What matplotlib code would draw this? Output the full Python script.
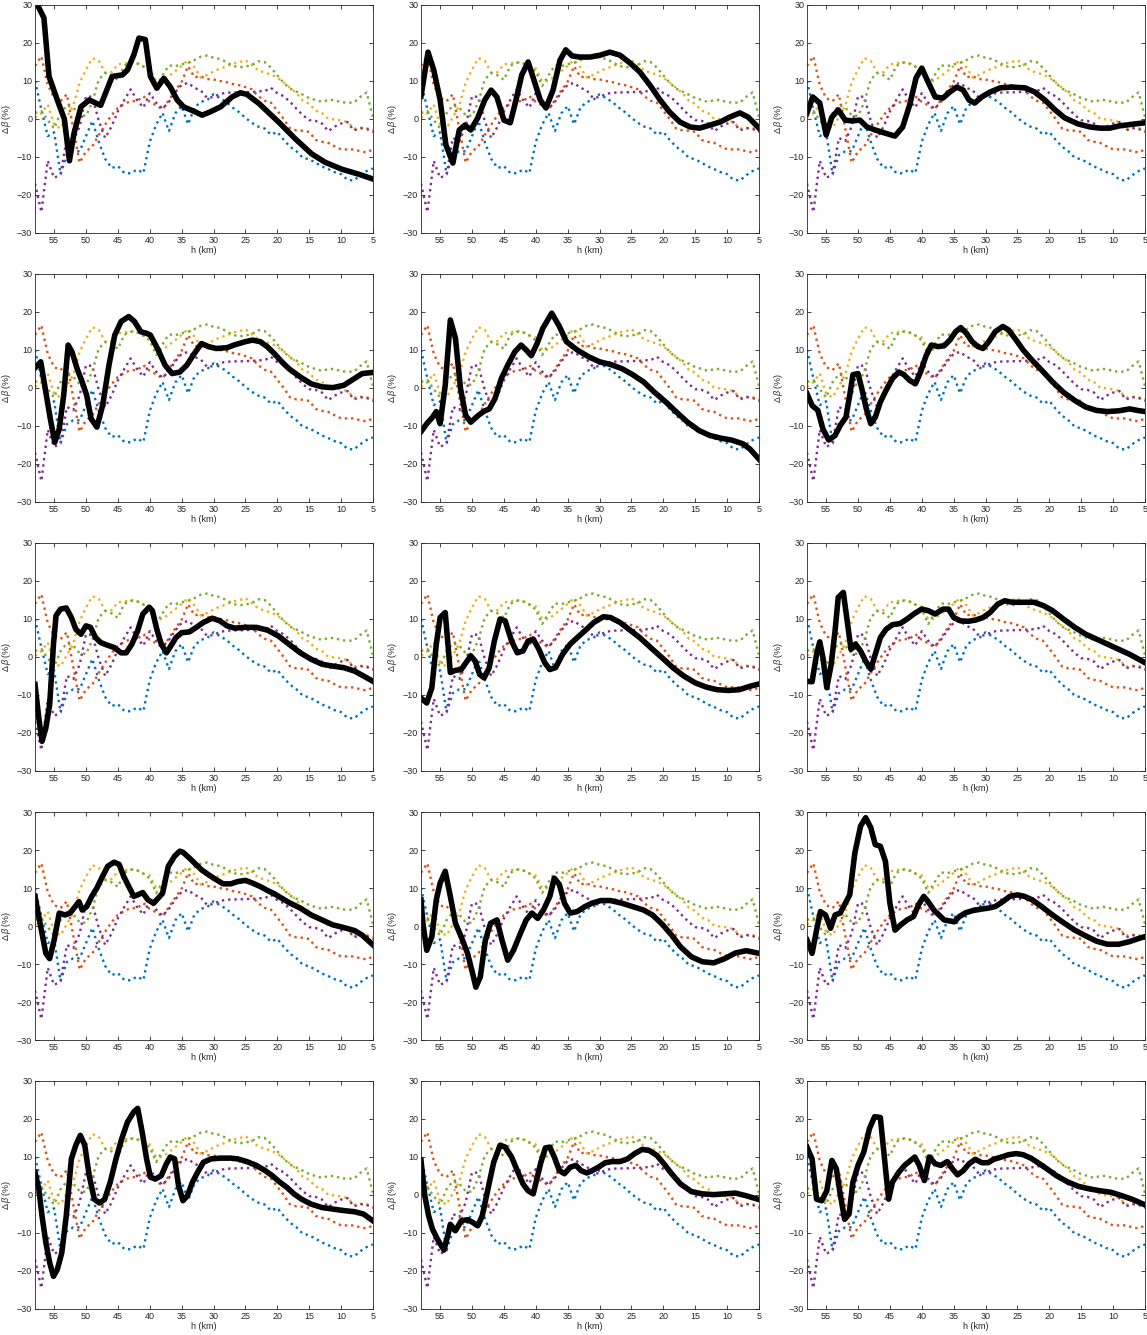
import numpy as np
import matplotlib
matplotlib.use('Agg')
from matplotlib import pyplot as plt

plt.rcParams['font.family'] = ['Liberation Sans', 'DejaVu Sans']
plt.rcParams['mathtext.fontset'] = 'custom'
plt.rcParams['mathtext.rm'] = 'Liberation Sans'
plt.rcParams['mathtext.it'] = 'Liberation Sans:italic'

# altitude grid shared by the reference profiles (km)
h_ref = np.arange(58, 4, -1)

ref_blue = [10, 2.5, -4.5, -3.5, -14.5, -9.5, -8.5, -8.5, -4.5, -0.5, -6, -10.5, -12.9, -12.4,
            -14.2, -14.3, -13.3, -14.2, -6, -1.5, 1.6, -3.2, 1.5, 3.4, -1.4, 3, 4.5, 5, 6.5, 5.5,
            4.5, 3, 1.8, 0.3, -1, -2, -2.5, -4.1, -3.4, -5.5, -7.3, -8.5, -10.2, -10.6, -11.5,
            -12.5, -13.2, -14, -14.5, -16, -16.2, -14.8, -13.7, -13]
ref_orange = [14, 16.5, 9, 5.5, 4.7, 6.5, -2.5, -11.5, -8.5, -7.2, -4.2, -1.5, 1, 2.9, 4, 4.7,
              4.7, 6, 4.5, 3.6, 2.5, 5, 7.5, 9.8, 13.9, 11, 11.2, 10.5, 10.4, 10, 9.7, 9.2, 8.9,
              8.4, 7.8, 6, 4.8, 4.3, 2.2, 0, -2.5, -3, -3.1, -3.4, -5.5, -6, -6.3, -7.2, -8, -8,
              -8, -8.5, -8.8, -8]
ref_yellow = [0.3, 1.5, 3.8, -1.5, -2.5, 0.5, 3.5, 9.5, 13, 16, 15.3, 12.2, 12.3, 14.4, 14.6, 15,
              14.8, 13.8, 13.3, 10, 10, 11.3, 12.6, 14, 15.5, 13.6, 10.9, 11.6, 12.5, 13.3, 13.8,
              14.6, 14.9, 15.5, 14.2, 12.8, 12.2, 11.7, 10.9, 9.6, 8.2, 6.8, 4.8, 4, 2.2, 1.6, 0,
              -0.1, -0.4, -0.8, -2.5, -2.3, -2.4, -3]
ref_purple = [-17, -24.5, -11, -15.5, -14.6, -5, -5.8, -2, 6, 5.8, -0.5, -5, -2, 2, 5, 7.8, 5, 3,
              6.8, 4.3, 2.7, 4.5, 7, 9, 9.5, 8.2, 7.5, 5.5, 5.8, 6.6, 6.9, 7, 7, 7.1, 7.1, 7.3,
              7.3, 8.2, 6.8, 6, 4.5, 2.7, 1, -0.3, -0.5, -1.2, -3.2, -2, -1.2, -0.8, -3, -2.4,
              -2.6, -3.4]
ref_green = [1.6, 2.1, -0.3, -2.5, 1.5, 3.6, 3, 1, 0.8, 4.5, 10.4, 12.1, 11.5, 10.3, 14, 14.8,
             14.6, 13.8, 12.5, 8.7, 11.5, 14.1, 13.9, 14.4, 14.8, 15.5, 16.4, 16.7, 16.1, 15.8,
             15, 14, 13.6, 13.8, 14.2, 15.2, 15, 13.5, 11.5, 9.5, 8, 7.2, 6.4, 5.5, 5, 4.5, 5, 5,
             4.4, 4.3, 4.3, 5.8, 7, 0.5]

# individual profiles, one per panel (altitude km, delta beta %)
h01 = [58, 57.6, 56.6, 55.8, 54.5, 53.4, 52.6, 51.9, 50.8, 49.5, 47.7, 45.9, 44.3, 43.5, 42.5,
       41.7, 40.7, 39.9, 38.9, 37.8, 36.8, 35.7, 34.7, 32.9, 31.8, 30.5, 28.9, 27.1, 25.8, 24.8,
       22.9, 19.8, 17.2, 14.6, 12.5, 9.9, 7.3, 5]
d01 = [31, 30, 26.6, 11.2, 5, 0, -11, -3.9, 3.2, 5, 3.6, 11.2, 11.6, 12.9, 16.9, 21.3, 20.9,
       11.2, 8.1, 10.7, 8.5, 5, 3.2, 1.9, 1, 1.9, 3.2, 5.8, 6.9, 6.5, 4.1, -0.8, -5.2, -9.2,
       -11.4, -13.2, -14.5, -15.8]

h02 = [58, 56.9, 56, 55, 54.1, 53, 52, 51.1, 50.2, 49.1, 48, 47, 46.1, 45, 44, 43.1, 42.2, 41.2,
       40.3, 39.3, 38.4, 37.3, 36.2, 35.3, 34.3, 33.1, 31.5, 29.9, 28.4, 26.8, 25.2, 23.7, 22.1,
       20.5, 19, 17.4, 15.8, 14.3, 12.7, 11.1, 9.6, 8, 6.7, 5]
d02 = [6, 17.6, 12.9, 5, -6.8, -11.6, -2.9, -1.6, -2.9, 0.3, 5, 7.6, 5.8, -0.3, -1, 5, 11.6, 15,
       10.3, 5, 2.9, 7.6, 15.5, 18.2, 16.6, 16.3, 16.3, 16.8, 17.6, 16.8, 14.7, 12.4, 8.9, 5,
       1.8, -0.8, -2.1, -2.4, -1.6, -0.8, 0.5, 1.6, 0.5, -2.4]

h03 = [58, 57.1, 56, 55, 54.1, 53.1, 52, 50.9, 49.7, 48.6, 47.3, 45.8, 44.2, 43, 41.9, 40.9, 40,
       39, 37.9, 36.7, 35.6, 34.5, 33.5, 32.6, 31.7, 30.6, 29.3, 27.7, 25.9, 23.8, 22.3, 20.7,
       19.1, 17.6, 15.5, 13.6, 12.1, 10.5, 9, 6.6, 5]
d03 = [1.6, 5.8, 4.2, -4.2, 0.5, 2.4, -0.3, -0.5, -0.3, -2.1, -2.9, -3.7, -4.5, -2.1, 3.7, 10.8,
       13.4, 9.7, 5.8, 5.5, 7.1, 8.4, 7.6, 5, 4.2, 5.8, 7.1, 8.2, 8.4, 8.2, 7.1, 5, 2.4, 0.3,
       -1.3, -2.1, -2.4, -2.4, -1.8, -1.3, -1]

h04 = [58, 57.1, 56.3, 55.6, 54.9, 54.2, 53.5, 52.8, 52.2, 51.4, 50.6, 49.9, 49.2, 48.3, 47.4,
       46.4, 45.5, 44.5, 43.3, 42.4, 41.4, 40.5, 39.9, 38.8, 37.6, 36.5, 35.3, 34.2, 33, 31.9,
       30.8, 29.6, 27.9, 26.8, 25, 23.9, 22.7, 21.6, 20.5, 19.3, 18.2, 16.4, 14.7, 13, 11.3,
       9.6, 7.9, 6.7, 5]
d04 = [5.3, 6.9, -1.1, -8.1, -14.3, -10.8, -1.9, 11.3, 9.5, 5.1, 1.6, -1.9, -8.1, -10.3, -4.6,
       6, 13.9, 17.5, 18.8, 17.5, 14.8, 14.4, 13.9, 10.4, 6, 3.8, 4.2, 6, 9.1, 11.7, 10.9, 10.4,
       10.6, 11.3, 12.2, 12.6, 12.2, 10.9, 9.1, 6.9, 5.1, 2.9, 1.1, 0.3, 0.1, 0.7, 2.5, 3.8, 4.1]

h05 = [58, 57.1, 56.2, 55.6, 55, 54.2, 53.4, 52.6, 51.8, 51, 50.2, 49, 48.2, 47.3, 46.4, 45.4,
       44.4, 43.3, 42.3, 41.5, 40.7, 39.8, 38.9, 37.5, 36.3, 35.2, 33.5, 31.7, 30, 28.3, 26.5,
       24.8, 23.1, 21.4, 19.6, 17.9, 16.2, 14.4, 12.7, 11, 9.3, 7.5, 6.4, 5]
d05 = [-11.5, -9.4, -7.7, -6.2, -9.4, 0.7, 17.9, 13.1, -0.2, -7.2, -9, -7.2, -6.2, -5.5, -2.8,
       2.5, 6, 9.5, 11.3, 10, 8.5, 11.7, 15.7, 19.7, 16.2, 12.2, 10, 8.2, 6.9, 6.2, 5.1, 3.5,
       1.6, -1.1, -3.7, -6.4, -9, -11.2, -12.5, -13.2, -13.7, -14.7, -16.1, -18.7]

h06 = [58, 57.2, 56.3, 55.5, 54.6, 53.6, 52.8, 51.9, 51.3, 50.8, 50, 49.4, 48.7, 48, 47.3, 46.5,
       45.6, 44.6, 43.6, 42.8, 41.9, 41, 40.2, 39.3, 38.5, 37.5, 36.5, 35.6, 34.7, 33.9, 33,
       32.1, 31.2, 30.4, 29.5, 28.5, 27.3, 26.4, 25.2, 24.1, 22.7, 21.2, 19.5, 17.8, 16, 14.3,
       12.6, 10.9, 9.1, 7.4, 6.2, 5]
d06 = [-1.5, -4.6, -5.9, -10.8, -13.7, -12.5, -9.9, -7.7, -1.9, 3.5, 3.8, -0.2, -5.5, -9.4, -7.7,
       -3.7, -0.6, 2.5, 4.2, 3.5, 2, 1.1, 4.2, 8.6, 11.3, 10.9, 11.1, 12.6, 14.8, 15.9, 14.4,
       12.2, 10.9, 10.4, 12.2, 14.8, 16.2, 15.3, 12.6, 10, 7.3, 4.7, 1.6, -1.1, -3.3, -5, -5.9,
       -6.2, -6, -5.5, -5.9, -6.2]

h07 = [58, 57.4, 56.9, 56.3, 55.7, 55.1, 54.7, 54, 53.1, 52.3, 51.6, 50.8, 50, 49.3, 48.5, 47.7,
       46.8, 45.6, 44.5, 43.7, 42.8, 41.9, 41.1, 40.1, 39.6, 38.9, 38.2, 37.4, 36.7, 35.9, 35,
       33.8, 32.7, 31.6, 30.2, 29, 27.9, 26.7, 25, 23.3, 21.6, 19.9, 18.2, 16.4, 14.7, 13, 11.3,
       9.6, 7.9, 6.7, 5]
d07 = [-7.2, -16.1, -22.2, -18.7, -12.5, 3.4, 10.9, 12.6, 12.9, 10.4, 7.3, 6, 8.2, 7.8, 5.1, 3.8,
       3.2, 2.5, 1.1, 1.1, 3.4, 6.9, 11.3, 13.1, 12.2, 7.3, 3.4, 1.1, 2.9, 5.1, 6.4, 6.6, 7.8,
       9.1, 10.2, 9.5, 8.2, 7.6, 7.8, 7.8, 7.1, 5.6, 3.4, 1.1, -0.6, -1.9, -2.4, -2.8, -3.7,
       -4.8, -6.4]

h08 = [58, 57.1, 56.3, 55.6, 55, 54.2, 53.4, 52.6, 51.7, 50.2, 49.5, 48.8, 48.1, 47.3, 46.5,
       45.6, 44.8, 43.8, 42.9, 42, 41.2, 40.4, 39.5, 38.6, 37.8, 36.9, 35.8, 34.6, 33.5, 32.3,
       30.9, 29.4, 28.3, 26.8, 25.4, 23.7, 22, 20.2, 18.5, 16.8, 15, 13.3, 11.6, 9.8, 8.1, 6.4, 5]
d08 = [-10.8, -12.1, -8.1, 3.4, 10.4, 11.7, -4.1, -3.5, -3.3, 0.3, -1.1, -4.6, -5.5, -2.8, 4.2,
       10, 9.5, 4.2, 1.1, 1.6, 4.2, 4.7, 2, -1.5, -3.3, -2.8, 0.7, 3.4, 5.1, 6.9, 9.1, 10.6,
       10.4, 9.1, 7.3, 5.1, 2.5, -0.2, -2.8, -5, -6.8, -7.9, -8.6, -8.8, -8.6, -7.7, -7.1]

h09 = [58, 57.2, 56.5, 56, 55.5, 54.9, 54.2, 53.6, 53.1, 52.3, 51.7, 51.1, 50.4, 49.6, 48.8, 48,
       47.3, 46.5, 45.6, 44.6, 43.4, 42.3, 41.1, 40, 39, 37.9, 36.7, 35.8, 35, 33.9, 32.7, 31.6,
       30.4, 29.3, 28.1, 27, 25.8, 24.1, 22.4, 20.9, 19.5, 17.8, 16, 14.3, 12.6, 10.9, 9.1, 7.4,
       6.2, 5]
d09 = [-6.4, -6.5, 0.7, 4, -0.2, -8.1, -1.9, 6.9, 15.7, 17, 9.5, 2, 3.4, 1.6, -1.1, -3.2, 0.7,
       5.1, 7.3, 8.5, 8.8, 10, 11.5, 12.6, 12.2, 11.3, 12.6, 12.6, 10.4, 9.5, 9.4, 9.7, 10.4,
       11.7, 13.9, 14.8, 14.4, 14.4, 14.4, 13.5, 12.2, 10, 7.8, 6, 4.7, 3.4, 2, 0.7, -0.4, -1.5]

h10 = [58, 57.1, 56.3, 55.7, 55, 54.2, 53.3, 52.5, 51.1, 50.6, 49.9, 49.1, 48.3, 47.4, 46.6,
       45.6, 44.8, 44.1, 43.3, 42.5, 41.9, 41.1, 40.3, 39.4, 38, 37.1, 36.1, 35.3, 34.8, 33.8,
       33, 31.9, 30.8, 29.6, 28.5, 27.3, 26.2, 25, 23.9, 22.7, 21.6, 20.5, 19.3, 18.2, 16.4,
       14.7, 13, 11.3, 9.6, 7.9, 6.7, 5]
d10 = [7.8, -0.2, -7.2, -8.6, -3.7, 3.4, 2.9, 3.4, 6.4, 4.2, 5.1, 7.8, 10, 13.1, 15.7, 16.8, 16.2,
       13.1, 10.4, 7.8, 8.2, 8.8, 6.9, 6, 8.6, 15.7, 18.4, 19.7, 19.4, 17.9, 16.6, 14.8, 13.5,
       12.2, 11.1, 11.1, 11.7, 12, 11.3, 10.4, 9.4, 8.5, 7.3, 6.2, 4.7, 2.9, 1.6, 0.3, -0.4,
       -1.2, -2.4, -5]

h11 = [58, 57.7, 57.1, 56.3, 55.6, 55, 54.2, 53.4, 52.6, 51.7, 50.7, 49.9, 49.4, 48.7, 47.9,
       47.1, 46.1, 45.3, 44.4, 43.5, 42.4, 41.5, 40.6, 39.7, 38.8, 37.8, 37.1, 36.3, 35.5, 34.6,
       33.5, 32.3, 31.2, 29.8, 28.3, 26.5, 24.8, 23.1, 21.7, 20.2, 18.7, 17.3, 15.6, 13.9, 12.1,
       10.4, 8.7, 7, 5]
d11 = [6.9, 0.7, -6.4, -2.8, 6.9, 11.3, 14.4, 7.8, 0.7, -2.8, -7.2, -12.5, -16.1, -13.4, -3.7,
       0.7, 1.6, -3.7, -9, -6.4, -1.9, 1.6, 3.4, 2, 4.2, 7.8, 12.6, 10.9, 6, 3.4, 3.8, 5.1, 6,
       6.7, 6.7, 6, 5.1, 4.2, 2.9, 0.5, -2.4, -5.5, -8.1, -9.4, -9.7, -8.6, -7.1, -6.5, -7.2]

h12 = [58, 57.2, 56.5, 55.9, 55.1, 54.3, 53.6, 52.8, 51.3, 50.5, 49.6, 48.8, 48, 47.3, 46.5,
       45.7, 45, 44.2, 43.3, 42.3, 41.3, 40.5, 39.7, 39, 38.1, 37.3, 36.5, 34.9, 34.1, 33.1,
       31.9, 30.8, 29.6, 28.5, 27.3, 26.2, 25, 23.9, 22.7, 21.2, 19.5, 17.8, 16, 14.3, 12.6,
       10.9, 9.1, 7.4, 6.2, 5]
d12 = [-3.7, -7.2, -1.1, 3.8, 2.9, -0.6, 2.9, 3.4, 8.2, 19.2, 26.3, 28.5, 25.9, 21.4, 21, 17, 6,
       -1.1, 0.3, 1.6, 2.5, 5.6, 7.8, 6.4, 4.2, 2.9, 1.6, 1.1, 2.5, 3.5, 4.1, 4.4, 4.7, 5.1, 6.4,
       7.8, 8.2, 7.8, 6.9, 5.1, 2.9, 0.9, -1.1, -2.6, -4, -4.8, -4.8, -4.1, -3.4, -2.8]

h13 = [58, 57.4, 56.9, 56.3, 55.7, 55.1, 54.5, 53.8, 53.1, 52.3, 51.6, 50.9, 50.2, 49.5, 48.7,
       47.9, 47.1, 46.2, 45.3, 44.4, 43.5, 42.5, 41.9, 41.2, 40.5, 39.9, 39.1, 38.2, 37.4, 36.8,
       36.1, 35.5, 34.8, 34.1, 33.3, 32.5, 31.6, 30.4, 29, 27.3, 26.2, 24.8, 23.3, 21.9, 20.8,
       19.7, 18.5, 17.4, 16.2, 14.7, 13, 11.3, 9.6, 7.9, 6.5, 5]
d13 = [6, 1.6, -5.5, -12.5, -17.8, -21.4, -19.6, -15.2, -5.5, 9.5, 13.1, 15.7, 13.1, 5.1, -1.1,
       -2.1, -1.2, 3.4, 9.5, 14.8, 19.2, 21.9, 22.8, 16.6, 9.5, 4.7, 4.2, 5.1, 8.2, 10, 9.5, 2.5,
       -1.5, -0.2, 3.4, 6, 8.6, 9.5, 9.7, 9.7, 9.5, 8.8, 7.8, 6.4, 5.1, 3.5, 2, 0.3, -1.1, -2.4,
       -3.3, -3.7, -4.1, -4.4, -5, -6.8]

h14 = [58, 57.4, 56.8, 56.2, 55.4, 54.4, 53.7, 53.4, 52.6, 51.7, 50.7, 49.9, 49.1, 48.4, 47.5,
       46.6, 45.6, 44.8, 43.8, 42.9, 42, 41.2, 40.4, 39.2, 38.5, 37.8, 37.1, 36.3, 35.5, 34.6,
       33.7, 32.9, 32, 31.2, 30.2, 29.1, 28, 26.8, 25.6, 24.5, 23.3, 22.2, 21, 19.9, 18.7, 17.3,
       15.6, 13.9, 12.1, 10.4, 8.7, 7, 5]
d14 = [9.1, -0.2, -5.5, -9, -11.7, -14.5, -9.9, -7.7, -9.4, -6.8, -6.5, -7.2, -8.1, -5.5, 1.6,
       8.6, 13.1, 12.6, 10, 6.4, 2.9, 1.1, 0.3, 8.6, 12.4, 12.6, 10, 6.4, 5.6, 7.3, 7.8, 6.4,
       5.8, 6.4, 7.3, 8.5, 8.8, 8.8, 9.5, 10.9, 12, 11.7, 10.4, 8.2, 5.6, 2.9, 0.9, 0.3, 0.1,
       0.3, 0.5, -0.2, -1.2]

h15 = [58, 57.2, 56.5, 55.7, 54.9, 54.1, 53.4, 52.8, 52.1, 51.4, 50.8, 50, 49.1, 48.2, 47.4,
       46.5, 45.9, 45.2, 44.6, 43.6, 42.7, 41.1, 40.4, 39.6, 38.8, 37.9, 37, 36, 35.2, 34.4,
       33.5, 32.6, 31.6, 30.6, 29.6, 28.7, 27.5, 26.4, 25.2, 24.1, 22.9, 21.8, 20.4, 18.9, 17.2,
       15.5, 13.7, 12, 10.3, 8.6, 6.9, 5]
d15 = [12.6, 9.5, -1.1, -1.5, 1.1, 9.1, 6.9, 0.3, -6.4, -5, 3.4, 7.8, 11.3, 17.5, 20.6, 20.4,
       10.4, -1.1, 3.4, 6, 7.8, 10, 7.8, 3.8, 10, 8.2, 7.8, 8.8, 6.9, 5.3, 6.4, 8.2, 9.4, 8.5,
       8.5, 9.4, 10, 10.6, 10.9, 10.6, 9.7, 8.5, 6.9, 5.1, 3.5, 2.3, 1.6, 1.1, 0.7, -0.2, -1.2,
       -2.6]

profiles = [(h01, d01), (h02, d02), (h03, d03), (h04, d04), (h05, d05), (h06, d06),
            (h07, d07), (h08, d08), (h09, d09), (h10, d10), (h11, d11), (h12, d12),
            (h13, d13), (h14, d14), (h15, d15)]

ref_series = [ref_blue, ref_orange, ref_yellow, ref_purple, ref_green]
ref_colors = ['#0072BD', '#D95319', '#EDB120', '#7E2F8E', '#77AC30']

W, H = 1147, 1335
fig = plt.figure(figsize=(W / 100, H / 100), dpi=100)

col_left = [35, 421, 807]
row_top = [5, 274, 543, 812, 1081]
ax_w, ax_h = 338, 228

for i, (hh, dd) in enumerate(profiles):
    r, c = divmod(i, 3)
    ax = fig.add_axes([col_left[c] / W, 1 - (row_top[r] + ax_h) / H, ax_w / W, ax_h / H])
    for vals, col in zip(ref_series, ref_colors):
        ax.plot(h_ref, vals, ls=':', color=col, lw=1.7)
    ax.plot(hh, dd, color='black', lw=4.0, solid_joinstyle='round')

    ax.set_xlim(58, 5)
    ax.set_ylim(-30, 30)
    ax.set_xticks(range(55, 4, -5))
    ax.set_yticks(range(-30, 31, 10))
    ax.tick_params(direction='in', top=True, right=True, length=3, width=0.6,
                   labelsize=6.5, colors='#262626', pad=2)
    for s in ax.spines.values():
        s.set_color('#262626')
        s.set_linewidth(0.6)
    ax.set_xlabel('h (km)', fontsize=6.5, color='#262626', labelpad=1)
    ax.set_ylabel(r'$\Delta\,\beta$ (%)', fontsize=6.5, color='#262626', labelpad=3)

fig.savefig('out.png', dpi=100)
